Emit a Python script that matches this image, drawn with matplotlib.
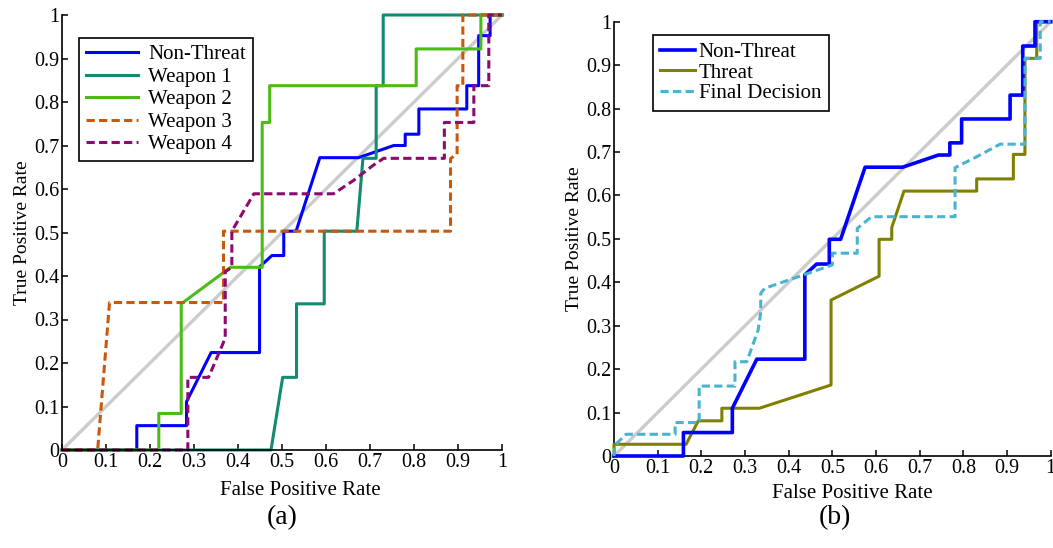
import numpy as np
import matplotlib
matplotlib.use('Agg')
import matplotlib.pyplot as plt

plt.rcParams['font.family'] = 'Liberation Serif'
plt.rcParams['font.size'] = 14.5

# ---- (a) curvas ROC por classe ----
nt_a_x = [0, 0.17, 0.17, 0.283, 0.283, 0.339, 0.449, 0.449, 0.477, 0.504, 0.504, 0.532,
          0.586, 0.674, 0.754, 0.78, 0.78, 0.811, 0.811, 0.92, 0.92, 0.947, 0.947, 0.973, 0.973, 1.0]
nt_a_y = [0, 0, 0.056, 0.056, 0.111, 0.224, 0.224, 0.421, 0.447, 0.447, 0.503, 0.503,
          0.672, 0.672, 0.70, 0.70, 0.726, 0.726, 0.784, 0.784, 0.8375, 0.8375, 0.9525, 0.9525, 1.0, 1.0]

w1_x = [0, 0.475, 0.5015, 0.533, 0.533, 0.596, 0.596, 0.670, 0.684, 0.714, 0.714, 0.730, 0.730, 1.0]
w1_y = [0, 0, 0.167, 0.167, 0.336, 0.336, 0.503, 0.503, 0.6705, 0.6705, 0.8375, 0.8375, 1.0, 1.0]

w2_x = [0, 0.22, 0.22, 0.271, 0.271, 0.383, 0.455, 0.455, 0.472, 0.472, 0.805, 0.805, 0.952, 0.952, 1.0]
w2_y = [0, 0, 0.084, 0.084, 0.336, 0.42, 0.42, 0.753, 0.753, 0.8375, 0.8375, 0.922, 0.922, 1.0, 1.0]

w3_x = [0, 0.081, 0.108, 0.367, 0.367, 0.883, 0.883, 0.898, 0.898, 0.911, 0.911, 1.0]
w3_y = [0, 0, 0.339, 0.339, 0.503, 0.503, 0.670, 0.68, 0.8375, 0.8375, 1.0, 1.0]

w4_x = [0, 0.286, 0.286, 0.333, 0.366, 0.371, 0.371, 0.386, 0.386, 0.39, 0.436, 0.617, 0.663,
        0.708, 0.731, 0.869, 0.869, 0.936, 0.936, 0.970, 0.970, 1.0]
w4_y = [0, 0, 0.167, 0.167, 0.245, 0.26, 0.41, 0.42, 0.503, 0.51, 0.589, 0.589, 0.62,
        0.655, 0.6705, 0.6705, 0.753, 0.753, 0.8375, 0.8375, 1.0, 1.0]

# ---- (b) decisão final ----
nt_b_x = [0, 0.159, 0.159, 0.271, 0.271, 0.327, 0.437, 0.437, 0.464, 0.493, 0.493, 0.519,
          0.575, 0.661, 0.743, 0.769, 0.769, 0.796, 0.796, 0.907, 0.907, 0.936, 0.936, 0.964, 0.964, 1.0]
nt_b_y = [0, 0, 0.054, 0.054, 0.11, 0.223, 0.223, 0.417, 0.442, 0.442, 0.499, 0.499,
          0.665, 0.665, 0.693, 0.693, 0.721, 0.721, 0.776, 0.776, 0.831, 0.831, 0.944, 0.944, 1.0, 1.0]

th_x = [0, 0, 0.165, 0.193, 0.247, 0.247, 0.333, 0.497, 0.497, 0.607, 0.607, 0.636, 0.636,
        0.664, 0.8305, 0.8305, 0.9145, 0.9145, 0.941, 0.941, 0.968, 0.968, 1.0]
th_y = [0, 0.027, 0.027, 0.081, 0.081, 0.11, 0.11, 0.1635, 0.359, 0.414, 0.499, 0.499, 0.526,
        0.61, 0.61, 0.638, 0.638, 0.6945, 0.6945, 0.9156, 0.9156, 1.0, 1.0]

fd_x = [0, 0.002, 0.0275, 0.14, 0.14, 0.195, 0.195, 0.277, 0.277, 0.304, 0.33, 0.336, 0.336,
        0.345, 0.434, 0.5, 0.5, 0.557, 0.557, 0.59, 0.781, 0.781, 0.8305, 0.884, 0.941, 0.941,
        0.976, 0.976, 1.0]
fd_y = [0, 0.025, 0.05, 0.05, 0.077, 0.077, 0.161, 0.161, 0.217, 0.217, 0.29, 0.33, 0.3745,
        0.386, 0.417, 0.44, 0.467, 0.467, 0.524, 0.551, 0.551, 0.664, 0.689, 0.718, 0.718,
        0.9156, 0.9156, 1.0, 1.0]

ticks = np.arange(0, 1.01, 0.1)
lw = 2.2
dash = (2.7, 1.4)


def setup(ax, xlab_x, xlab_y):
    ax.set_xlim(0, 1)
    ax.set_ylim(0, 1)
    ax.set_xticks(ticks)
    ax.set_yticks(ticks)
    ax.set_xticklabels(['%g' % round(t, 1) for t in ticks])
    ax.set_yticklabels(['%g' % round(t, 1) for t in ticks])
    for s in ['top', 'right']:
        ax.spines[s].set_visible(False)
    for s in ['left', 'bottom']:
        ax.spines[s].set_linewidth(1.2)
    ax.tick_params(direction='in', length=4, width=1.1, pad=2, labelsize=14.5)
    ax.set_xlabel('False Positive Rate', fontsize=15)
    ax.xaxis.set_label_coords(xlab_x, xlab_y)
    ax.set_ylabel('True Positive Rate', fontsize=14, labelpad=2)
    ax.plot([0, 1], [0, 1], color='#cccccc', lw=2.4, zorder=1, clip_on=False)


fig = plt.figure(figsize=(10.53, 5.48), dpi=100)

ax1 = fig.add_axes([62 / 1053, 98 / 548, 440 / 1053, 435 / 548])
setup(ax1, 0.541, -0.072)
ax1.plot(nt_a_x, nt_a_y, color='#0000ff', lw=lw, label='Non-Threat', clip_on=False)
ax1.plot(w1_x, w1_y, color='#138a72', lw=lw, label='Weapon 1', clip_on=False)
ax1.plot(w2_x, w2_y, color='#4cbb17', lw=lw, label='Weapon 2', clip_on=False)
ax1.plot(w3_x, w3_y, color='#c8580c', lw=lw, ls=(0, dash), label='Weapon 3', clip_on=False)
ax1.plot(w4_x, w4_y, color='#8b0a70', lw=lw, ls=(0, dash), label='Weapon 4', clip_on=False)
leg1 = ax1.legend(loc='upper left', bbox_to_anchor=(0.0386, 0.947), borderaxespad=0,
                  fancybox=False, edgecolor='black', framealpha=1, handlelength=2.5,
                  labelspacing=0.14, borderpad=0.32, handletextpad=0.5, fontsize=15)
leg1.get_frame().set_linewidth(1.2)

ax2 = fig.add_axes([614 / 1053, 92 / 548, 436.7 / 1053, 434.3 / 548])
setup(ax2, 0.545, -0.064)
ax2.plot(nt_b_x, nt_b_y, color='#0000ff', lw=2.6, label='Non-Threat', clip_on=False, zorder=4)
ax2.plot(th_x, th_y, color='#808000', lw=lw, label='Threat', clip_on=False, zorder=3)
ax2.plot(fd_x, fd_y, color='#4ab3d0', lw=lw, ls=(0, dash), label='Final Decision',
         clip_on=False, zorder=5)
leg2 = ax2.legend(loc='upper left', bbox_to_anchor=(0.0893, 0.969), borderaxespad=0,
                  fancybox=False, edgecolor='black', framealpha=1, handlelength=1.65,
                  labelspacing=0.05, borderpad=0.35, handletextpad=0.2, fontsize=15)
leg2.get_frame().set_linewidth(1.2)

fig.text(282 / 1053, 1 - 518 / 548, '(a)', ha='center', va='center', fontsize=20)
fig.text(835 / 1053, 1 - 518 / 548, '(b)', ha='center', va='center', fontsize=20)

fig.savefig('out.png', dpi=100)
